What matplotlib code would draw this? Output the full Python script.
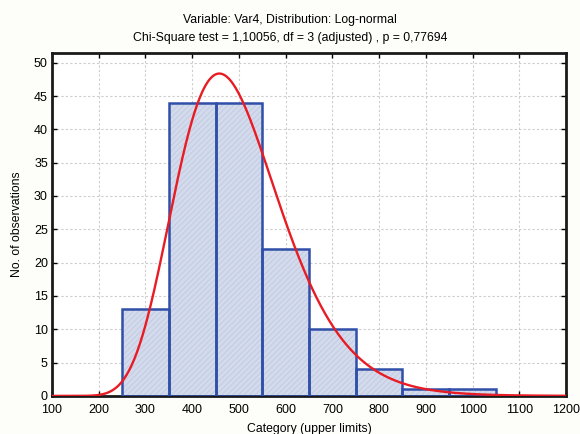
import numpy as np
import matplotlib.pyplot as plt

# histogram: bin upper limits and counts
bin_lefts = [250, 350, 450, 550, 650, 750, 850, 950]
counts = [13, 44, 44, 22, 10, 4, 1, 1]
bin_width = 100

# fitted log-normal (parameters)
mu = 6.186
sigma = 0.243

x_ticks = [100, 200, 300, 400, 500, 600, 700, 800, 900, 1000, 1100, 1200]
y_ticks = [0, 5, 10, 15, 20, 25, 30, 35, 40, 45, 50]

plt.rcParams['font.family'] = ['Liberation Sans', 'DejaVu Sans']

fig = plt.figure(figsize=(5.8, 4.34), dpi=100, facecolor='#fdfdf9')
ax = fig.add_axes([0.0897, 0.0878, 0.8862, 0.7908])
ax.set_facecolor('white')

n_total = sum(counts)
xs = np.linspace(100, 1200, 600)
pdf = np.exp(-(np.log(xs) - mu) ** 2 / (2 * sigma ** 2)) / (xs * sigma * np.sqrt(2 * np.pi))
expected = pdf * n_total * bin_width

plt.rcParams['hatch.linewidth'] = 0.4
ax.bar(bin_lefts, counts, width=bin_width, align='edge', color='#d3daec',
       edgecolor='#b7c2dc', hatch='//////', linewidth=0, zorder=2)
ax.bar(bin_lefts, counts, width=bin_width, align='edge', fill=False,
       edgecolor='#2f4fa8', linewidth=1.8, zorder=3)
ax.plot(xs, expected, color='#e81c24', linewidth=1.7, zorder=4)

ax.set_xlim(100, 1200)
ax.set_ylim(0, 51.5)
ax.set_xticks(x_ticks)
ax.set_yticks(y_ticks)
ax.grid(True, color='#cccccc', linestyle=(0, (2, 2)), linewidth=0.8, zorder=0)
ax.set_axisbelow(True)
ax.tick_params(direction='in', length=3.5, width=1, labelsize=9,
               top=True, right=True, pad=3)
ax.tick_params(axis='x', pad=6)
for s in ax.spines.values():
    s.set_linewidth(2)
    s.set_color('#1a1a1a')

ax.set_xlabel('Category (upper limits)', fontsize=8.8, labelpad=5)
ax.set_ylabel('No. of observations', fontsize=8.8, labelpad=8)
fig.text(0.5, 0.955, 'Variable: Var4, Distribution: Log-normal',
         ha='center', va='center', fontsize=8.8)
fig.text(0.5, 0.913, 'Chi-Square test = 1,10056, df = 3 (adjusted) , p = 0,77694',
         ha='center', va='center', fontsize=8.8)

fig.savefig('out.png', dpi=100, facecolor=fig.get_facecolor())
